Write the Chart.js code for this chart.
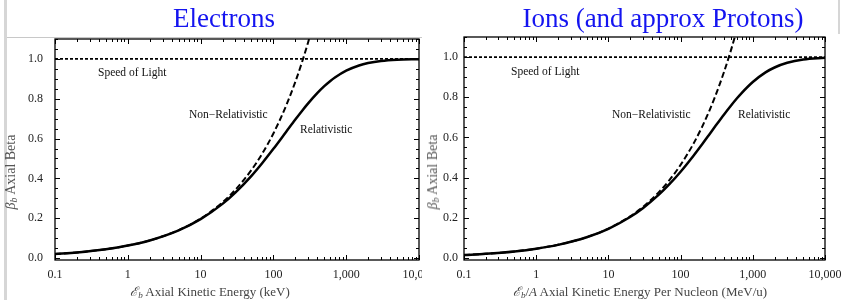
<!DOCTYPE html>
<html>
<head>
<meta charset="utf-8">
<script src="https://cdn.jsdelivr.net/npm/chart.js@4"></script>
<style>
  body { margin: 0; width: 850px; height: 300px; background: #fff; position: relative; overflow: hidden; font-family: "Liberation Serif", serif; }
  .abs { position: absolute; }
  .title { color: #1414f0; font-size: 27px; line-height: 1; transform: translateX(-50%); white-space: nowrap; }
  .xlab { color: #444; font-size: 13px; line-height: 1; transform: translateX(-50%); white-space: nowrap; }
  .ylab { color: #555; font-size: 14px; line-height: 1; transform: translate(-50%, -50%) rotate(-90deg); white-space: nowrap; }
  .note { color: #111; font-size: 11.5px; line-height: 1; transform: translateY(-50%); white-space: nowrap; }
  sub { font-size: 0.7em; vertical-align: -0.25em; line-height: 0; }
</style>
</head>
<body>
<div class="abs" style="left:0;top:0;width:422px;height:300px;overflow:hidden">
  <canvas id="electronChart" width="450" height="300"></canvas>
</div>
<div class="abs" style="left:422px;top:0;width:428px;height:300px;background:#fff">
  <canvas id="ionChart" width="428" height="300"></canvas>
</div>

<div class="abs" style="left:4px;top:0;width:3px;height:300px;background:#d6d6d6"></div>
<div class="abs" style="left:7px;top:37px;width:415px;height:1px;background:#c8c8c8"></div>
<div class="abs" style="left:838px;top:0;width:2px;height:34px;background:#d6d6d6"></div>

<div class="abs title" style="left:224px;top:5px">Electrons</div>
<div class="abs title" style="left:663px;top:5px">Ions (and approx Protons)</div>

<div class="abs xlab" style="left:210px;top:285px"><i>ℰ</i><sub><i>b</i></sub> Axial Kinetic Energy (keV)</div>
<div class="abs xlab" style="left:640px;top:285px"><i>ℰ</i><sub><i>b</i></sub>/<i>A</i> Axial Kinetic Energy Per Nucleon (MeV/u)</div>
<div class="abs ylab" style="left:11px;top:172px"><i>β</i><sub><i>b</i></sub> Axial Beta</div>
<div class="abs ylab" style="left:433px;top:172px"><i>β</i><sub><i>b</i></sub> Axial Beta</div>

<div class="abs note" style="left:98px;top:73px">Speed of Light</div>
<div class="abs note" style="left:189px;top:115px">Non−Relativistic</div>
<div class="abs note" style="left:300px;top:130px">Relativistic</div>
<div class="abs note" style="left:511px;top:72px">Speed of Light</div>
<div class="abs note" style="left:612px;top:115px">Non−Relativistic</div>
<div class="abs note" style="left:738px;top:115px">Relativistic</div>

<script>
// kinetic energy grid (keV for electrons, MeV/u for ions)
const energyGrid = [0.1, 0.2, 0.5, 1, 2, 5, 10, 20, 30, 50, 70, 100, 150, 200, 250, 300, 400, 500, 600, 700, 1000, 1500, 2000, 3000, 5000, 10000];

const electronRelBeta = [0.0198, 0.0280, 0.0442, 0.0625, 0.0882, 0.1389, 0.1950, 0.2719, 0.3284, 0.4127, 0.4759, 0.5482, 0.6343, 0.6953, 0.7410, 0.7765, 0.8279, 0.8629, 0.8880, 0.9066, 0.9411, 0.9672, 0.9791, 0.9894, 0.9957, 0.9988];
// non-relativistic curve runs off the top, so fewer points
const electronNonRelBeta = [0.0198, 0.0280, 0.0442, 0.0626, 0.0885, 0.1399, 0.1978, 0.2798, 0.3427, 0.4424, 0.5234, 0.6256, 0.7662, 0.8848, 0.9892, 1.0836, 1.2513];

const ionRelBeta = [0.0147, 0.0207, 0.0328, 0.0463, 0.0654, 0.1032, 0.1454, 0.2040, 0.2479, 0.3151, 0.3672, 0.4295, 0.5081, 0.5677, 0.6152, 0.6541, 0.7146, 0.7593, 0.7938, 0.8210, 0.8760, 0.9237, 0.9482, 0.9715, 0.9876, 0.9964];
const ionNonRelBeta = [0.0147, 0.0207, 0.0328, 0.0463, 0.0655, 0.1036, 0.1465, 0.2072, 0.2538, 0.3277, 0.3877, 0.4634, 0.5675, 0.6553, 0.7327, 0.8026, 0.9267, 1.0361, 1.1350, 1.2259];

const lightEnergy = [0.1, 10000];
const lightBeta = [1, 1];

const xMajorTicks = [0.1, 1, 10, 100, 1000, 10000];
const xTickLabels = ["0.1", "1", "10", "100", "1,000", "10,000"];
const yMajorTicks = [0, 0.2, 0.4, 0.6, 0.8, 1.0];
const yTickLabels = ["0.0", "0.2", "0.4", "0.6", "0.8", "1.0"];

const pts = (xs, ys) => ys.map((y, i) => ({ x: xs[i], y: y }));

// mathematica style frame with inward ticks on all four sides
const frameTicks = {
  id: "frameTicks",
  afterDatasetsDraw(chart) {
    const { ctx, chartArea: a, scales: { x, y } } = chart;
    ctx.save();
    ctx.strokeStyle = "#000";
    ctx.lineWidth = 1;
    ctx.beginPath();
    xMajorTicks.forEach((d, i) => {
      const marks = [[d, 5]];
      if (i < xMajorTicks.length - 1) for (let k = 2; k <= 9; k++) marks.push([d * k, 3]);
      marks.forEach(([v, len]) => {
        const px = Math.round(x.getPixelForValue(v)) + 0.5;
        ctx.moveTo(px, a.bottom); ctx.lineTo(px, a.bottom - len);
        ctx.moveTo(px, a.top); ctx.lineTo(px, a.top + len);
      });
    });
    for (let i = 0; i <= 22; i++) {
      const len = i % 4 === 0 ? 5 : 3;
      const py = Math.round(y.getPixelForValue(i * 0.05)) + 0.5;
      ctx.moveTo(a.left, py); ctx.lineTo(a.left + len, py);
      ctx.moveTo(a.right, py); ctx.lineTo(a.right - len, py);
    }
    ctx.stroke();
    ctx.lineWidth = 1.3;
    ctx.strokeRect(a.left, a.top, a.width, a.height);
    ctx.restore();
  }
};

function makePanel(id, relBeta, nonRelBeta, pad, yWidth, yPad) {
  const tickFont = { family: "Liberation Serif", size: 12 };
  return new Chart(document.getElementById(id), {
    type: "line",
    data: {
      datasets: [
        { data: pts(lightEnergy, lightBeta), borderColor: "#000", borderWidth: 1.6, borderDash: [3, 2] },
        { data: pts(energyGrid, nonRelBeta), borderColor: "#000", borderWidth: 2, borderDash: [6, 3], cubicInterpolationMode: "monotone" },
        { data: pts(energyGrid, relBeta), borderColor: "#000", borderWidth: 2.5, cubicInterpolationMode: "monotone" },
      ],
    },
    options: {
      responsive: false,
      animation: false,
      parsing: false,
      elements: { point: { radius: 0 } },
      layout: { padding: pad },
      plugins: { legend: { display: false }, tooltip: { enabled: false } },
      scales: {
        x: {
          type: "logarithmic",
          min: 0.1,
          max: 10000,
          grid: { display: false, drawTicks: false },
          border: { display: false },
          afterBuildTicks: (s) => { s.ticks = xMajorTicks.map((v) => ({ value: v })); },
          afterFit: (s) => { s.height = 40; },
          ticks: { callback: (v, i) => xTickLabels[i], font: tickFont, color: "#222", padding: 8, maxRotation: 0, autoSkip: false },
        },
        y: {
          min: -0.01,
          max: 1.1,
          grid: { display: false, drawTicks: false },
          border: { display: false },
          afterBuildTicks: (s) => { s.ticks = yMajorTicks.map((v) => ({ value: v })); },
          afterFit: (s) => { s.width = yWidth; },
          ticks: { callback: (v, i) => yTickLabels[i], font: tickFont, color: "#222", padding: yPad },
        },
      },
    },
    plugins: [frameTicks],
  });
}

makePanel("electronChart", electronRelBeta, electronNonRelBeta, { left: 0, top: 39, right: 31, bottom: 0 }, 55, 12);
makePanel("ionChart", ionRelBeta, ionNonRelBeta, { left: 0, top: 37, right: 25, bottom: 0 }, 42, 6);
</script>
</body>
</html>
